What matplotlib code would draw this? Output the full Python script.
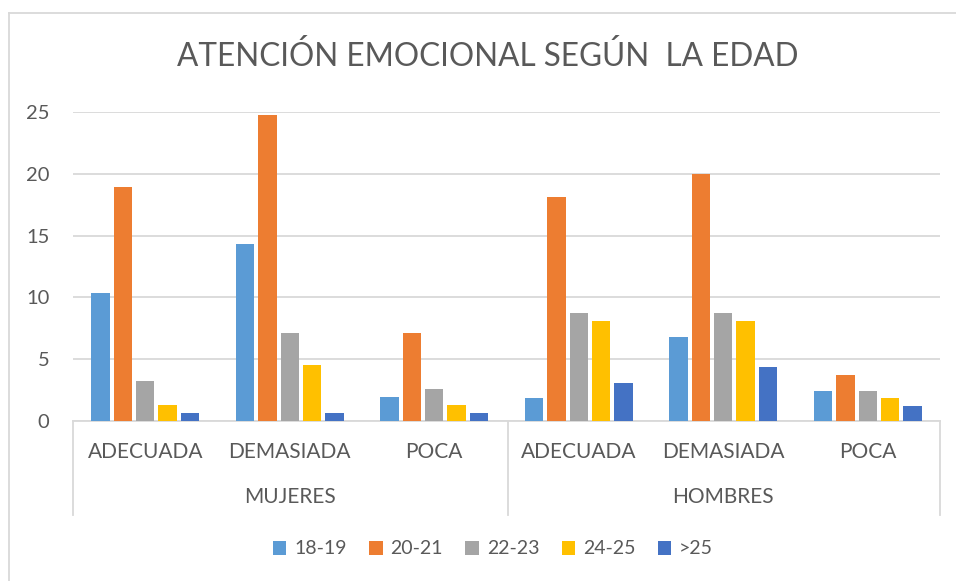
import matplotlib
matplotlib.use("Agg")
import matplotlib.pyplot as plt
from matplotlib.lines import Line2D
from matplotlib.patches import Patch
import numpy as np

plt.rcParams['font.family'] = ['Lato', 'DejaVu Sans']

groups = ["MUJERES", "HOMBRES"]
subcats = ["ADECUADA", "DEMASIADA", "POCA"]
series_names = ["18-19", "20-21", "22-23", "24-25", ">25"]
colors = ["#5B9BD5", "#ED7D31", "#A5A5A5", "#FFC000", "#4472C4"]

v_18_19 = [10.39, 14.35, 1.91, 1.83, 6.81, 2.45]
v_20_21 = [18.92, 24.79, 7.13, 18.09, 19.97, 3.69]
v_22_23 = [3.23, 7.13, 2.56, 8.72, 8.72, 2.45]
v_24_25 = [1.29, 4.52, 1.29, 8.08, 8.08, 1.83]
v_gt25 = [0.62, 0.62, 0.62, 3.07, 4.33, 1.21]
series = [v_18_19, v_20_21, v_22_23, v_24_25, v_gt25]

title = "ATENCIÓN EMOCIONAL SEGÚN  LA EDAD"
txt = "#595959"
grid = "#D9D9D9"

W, H = 956, 581
fig = plt.figure(figsize=(W/100, H/100), dpi=100)
ax = fig.add_axes([73/W, 1-421/H, (940-73)/W, (421-112)/H])

n = len(subcats) * len(groups)
x = np.arange(n)
step = 0.155
for i, (vals, c) in enumerate(zip(series, colors)):
    ax.bar(x + (i-2)*step, vals, width=step*0.82, color=c, edgecolor="none", zorder=3)

ax.set_xlim(-0.5, n-0.5)
ax.set_ylim(0, 25)
ax.set_yticks([0, 5, 10, 15, 20, 25])
ax.tick_params(axis='y', length=0, pad=17, labelsize=14.5, labelcolor=txt)
ax.tick_params(axis='x', length=0, labelbottom=False)
ax.grid(axis='y', color=grid, linewidth=1.3, zorder=0)
for s in ["left", "right", "top"]:
    ax.spines[s].set_visible(False)
ax.spines["bottom"].set_color(grid)
ax.spines["bottom"].set_linewidth(1.3)

# category labels
for j in range(n):
    ax.text(j, -0.1, subcats[j % 3], transform=ax.get_xaxis_transform(),
            ha="center", va="center", fontsize=15, color=txt)
for g, name in enumerate(groups):
    ax.text(g*3 + 1, -0.245, name, transform=ax.get_xaxis_transform(),
            ha="center", va="center", fontsize=15, color=txt)

# separators
def fx(px): return px / W
def fy(py): return 1 - py / H
for px in [73, 508, 940]:
    fig.add_artist(Line2D([fx(px), fx(px)], [fy(421), fy(515)], color=grid, lw=1.3))

# outer border
fig.add_artist(Line2D([fx(9), fx(9)], [fy(13), 0], color=grid, lw=1.3))
fig.add_artist(Line2D([fx(9), 1], [fy(13), fy(13)], color=grid, lw=1.3))

fig.text(fx(488), fy(57), title, ha="center", va="center", fontsize=22.7, color=txt)

handles = [Patch(facecolor=c, edgecolor="none") for c in colors]
fig.legend(handles, series_names, loc="center", bbox_to_anchor=(fx(493), fy(549)),
           ncol=5, frameon=False, fontsize=14, labelcolor=txt,
           handlelength=0.7, handleheight=0.7, handletextpad=0.4, columnspacing=1.15)

fig.savefig("out.png", dpi=100)
